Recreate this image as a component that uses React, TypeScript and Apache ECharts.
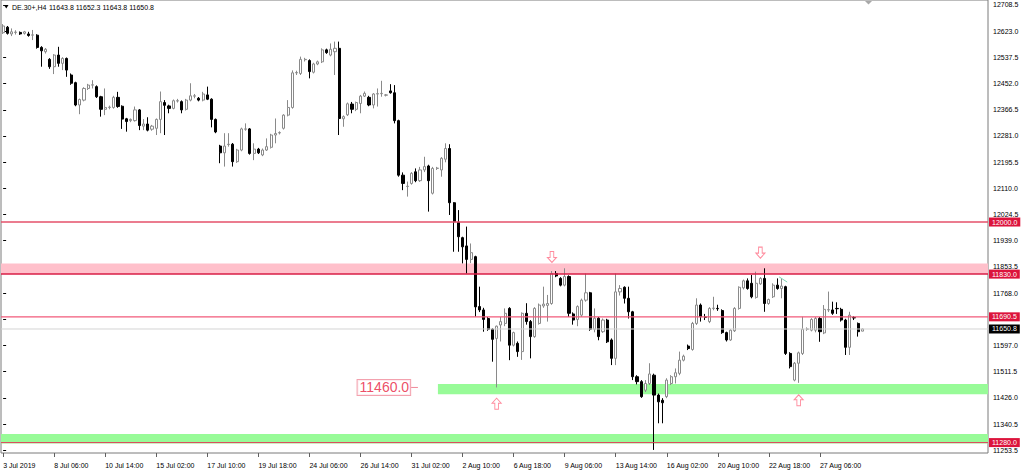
import React, { useEffect, useRef } from "react";
import * as echarts from "echarts";

// ---------- data ----------
const SLOTS = 232; // bar slots visible on the time axis (including empty shift area)
const symbolName = "DE.30+,H4";
const lastQuote = "11643.8 11652.3 11643.8 11650.8";

// [open, close, low, high]
const candles: [number, number, number, number][] = [
  [12618, 12640, 12614, 12646], [12636, 12616, 12612, 12640], [12614, 12621, 12607, 12632], [12619, 12620, 12612, 12626],
  [12619, 12614, 12611, 12622], [12616, 12621, 12612, 12624], [12614, 12609, 12605, 12621], [12610, 12611, 12594, 12627],
  [12610, 12570, 12566, 12613], [12570, 12559, 12507, 12574], [12556, 12564, 12550, 12568], [12531, 12507, 12500, 12535],
  [12507, 12545, 12483, 12548], [12545, 12518, 12507, 12572], [12518, 12534, 12496, 12538], [12534, 12496, 12474, 12537],
  [12480, 12453, 12448, 12485], [12455, 12382, 12378, 12458], [12382, 12400, 12352, 12403], [12398, 12436, 12394, 12440],
  [12436, 12447, 12431, 12451], [12447, 12448, 12436, 12463], [12442, 12409, 12405, 12446], [12409, 12368, 12344, 12412],
  [12368, 12374, 12349, 12436], [12374, 12375, 12368, 12380], [12374, 12407, 12370, 12412], [12407, 12377, 12373, 12425],
  [12378, 12336, 12304, 12381], [12337, 12328, 12295, 12340], [12331, 12335, 12326, 12338], [12331, 12366, 12328, 12377],
  [12366, 12315, 12300, 12369], [12313, 12320, 12300, 12336], [12320, 12300, 12296, 12342], [12303, 12313, 12298, 12317],
  [12306, 12335, 12284, 12338], [12335, 12393, 12290, 12426], [12390, 12381, 12284, 12398], [12379, 12371, 12355, 12383],
  [12371, 12396, 12368, 12400], [12395, 12396, 12390, 12402], [12393, 12366, 12355, 12397], [12368, 12398, 12364, 12402],
  [12398, 12412, 12394, 12453], [12411, 12412, 12404, 12418], [12404, 12398, 12394, 12408], [12398, 12418, 12394, 12425],
  [12415, 12401, 12398, 12442], [12401, 12335, 12309, 12404], [12335, 12294, 12290, 12338], [12248, 12226, 12192, 12252],
  [12226, 12248, 12181, 12290], [12253, 12254, 12246, 12290], [12254, 12197, 12181, 12258], [12197, 12235, 12193, 12239],
  [12235, 12304, 12231, 12308], [12303, 12304, 12298, 12322], [12304, 12224, 12220, 12307], [12224, 12238, 12202, 12257],
  [12238, 12226, 12222, 12242], [12219, 12235, 12215, 12240], [12235, 12246, 12232, 12273], [12244, 12284, 12240, 12288],
  [12284, 12289, 12257, 12338], [12291, 12292, 12286, 12296], [12306, 12349, 12302, 12352], [12349, 12374, 12345, 12398],
  [12374, 12487, 12370, 12495], [12487, 12488, 12480, 12494], [12485, 12531, 12480, 12540], [12530, 12531, 12524, 12536],
  [12527, 12491, 12469, 12531], [12489, 12516, 12485, 12520], [12516, 12523, 12512, 12527], [12523, 12562, 12519, 12567],
  [12562, 12553, 12549, 12566], [12545, 12564, 12541, 12583], [12556, 12567, 12480, 12589], [12567, 12338, 12284, 12589],
  [12337, 12344, 12311, 12348], [12350, 12386, 12346, 12390], [12385, 12368, 12355, 12392], [12368, 12390, 12362, 12393],
  [12387, 12411, 12355, 12415], [12411, 12420, 12408, 12426], [12407, 12382, 12378, 12412], [12382, 12418, 12371, 12421],
  [12418, 12419, 12377, 12436], [12419, 12420, 12409, 12461], [12414, 12415, 12410, 12418], [12428, 12422, 12419, 12450],
  [12422, 12331, 12322, 12447], [12331, 12153, 12148, 12334], [12153, 12126, 12104, 12162], [12116, 12117, 12083, 12132],
  [12126, 12159, 12122, 12163], [12164, 12135, 12130, 12175], [12135, 12170, 12131, 12180], [12170, 12181, 12163, 12213],
  [12183, 12135, 12034, 12187], [12094, 12175, 12090, 12180], [12175, 12176, 12170, 12180], [12170, 12208, 12148, 12212],
  [12205, 12240, 12195, 12257], [12240, 12063, 12023, 12254], [12063, 12001, 11903, 12065], [11999, 11952, 11903, 12039],
  [11949, 11919, 11865, 11952], [11922, 11878, 11832, 11985], [11878, 11900, 11866, 11930], [11887, 11723, 11691, 11890],
  [11724, 11713, 11706, 11789], [11713, 11682, 11642, 11720], [11685, 11650, 11645, 11690], [11650, 11617, 11544, 11653],
  [11620, 11660, 11460, 11662], [11664, 11675, 11610, 11690], [11669, 11702, 11660, 11718], [11718, 11598, 11549, 11722],
  [11598, 11639, 11594, 11642], [11604, 11577, 11560, 11610], [11577, 11702, 11550, 11705], [11702, 11675, 11665, 11735],
  [11675, 11626, 11555, 11680], [11626, 11718, 11622, 11722], [11669, 11729, 11665, 11734], [11726, 11732, 11720, 11789],
  [11728, 11734, 11675, 11762], [11734, 11832, 11730, 11840], [11832, 11824, 11820, 11840], [11816, 11794, 11790, 11820],
  [11794, 11822, 11790, 11849], [11822, 11702, 11690, 11826], [11700, 11680, 11665, 11705], [11682, 11724, 11660, 11728],
  [11696, 11745, 11690, 11750], [11745, 11769, 11740, 11832], [11769, 11650, 11645, 11772], [11650, 11686, 11640, 11718],
  [11686, 11626, 11614, 11690], [11642, 11680, 11638, 11685], [11680, 11609, 11605, 11684], [11615, 11555, 11533, 11620],
  [11555, 11772, 11533, 11832], [11772, 11783, 11760, 11794], [11787, 11751, 11734, 11790], [11751, 11707, 11685, 11789],
  [11707, 11495, 11484, 11710], [11495, 11479, 11470, 11500], [11479, 11430, 11426, 11484], [11451, 11473, 11445, 11484],
  [11473, 11504, 11468, 11539], [11500, 11435, 11256, 11505], [11435, 11413, 11343, 11440], [11418, 11410, 11343, 11425],
  [11430, 11484, 11425, 11490], [11473, 11495, 11468, 11500], [11495, 11508, 11473, 11522], [11506, 11549, 11500, 11577],
  [11549, 11562, 11545, 11567], [11595, 11587, 11582, 11600], [11584, 11669, 11580, 11674], [11669, 11729, 11664, 11751],
  [11729, 11691, 11675, 11734], [11690, 11689, 11680, 11700], [11675, 11718, 11670, 11722], [11718, 11719, 11712, 11756],
  [11718, 11717, 11710, 11730], [11711, 11639, 11635, 11715], [11639, 11615, 11610, 11642], [11615, 11647, 11612, 11650],
  [11645, 11718, 11641, 11722], [11718, 11787, 11714, 11790], [11785, 11808, 11780, 11812], [11808, 11783, 11779, 11816],
  [11800, 11756, 11751, 11827], [11754, 11800, 11750, 11838], [11798, 11816, 11795, 11820], [11816, 11734, 11707, 11849],
  [11734, 11747, 11730, 11750], [11756, 11794, 11752, 11800], [11794, 11783, 11779, 11816], [11783, 11791, 11751, 11816],
  [11789, 11571, 11566, 11792], [11571, 11528, 11522, 11575], [11484, 11539, 11480, 11543], [11539, 11573, 11475, 11577],
  [11571, 11650, 11566, 11691], [11650, 11651, 11645, 11656], [11647, 11682, 11643, 11686], [11647, 11685, 11640, 11690],
  [11685, 11642, 11609, 11690], [11638, 11715, 11634, 11729], [11713, 11714, 11706, 11773], [11713, 11702, 11697, 11740],
  [11718, 11717, 11700, 11738], [11715, 11680, 11675, 11720], [11680, 11591, 11566, 11684], [11591, 11696, 11566, 11707],
  [11688, 11687, 11680, 11693], [11669, 11642, 11626, 11672], [11643.8, 11650.8, 11643.8, 11652.3],
];

const TICK_STEP = 12; // bars between time labels
const timeLabels = [
  "3 Jul 2019", "8 Jul 06:00", "10 Jul 14:00", "15 Jul 02:00", "17 Jul 10:00", "19 Jul 18:00",
  "24 Jul 06:00", "26 Jul 14:00", "31 Jul 02:00", "2 Aug 10:00", "6 Aug 18:00", "9 Aug 06:00",
  "13 Aug 14:00", "16 Aug 02:00", "20 Aug 10:00", "22 Aug 18:00", "27 Aug 06:00",
];

// price scale (visible range of the plot) and the price ticks / labels
const PLOT_TOP_PRICE = 12724.8;
const PLOT_BOTTOM_PRICE = 11246.0;
const priceTicks = [
  12708.5, 12623.0, 12537.5, 12452.0, 12366.5, 12281.0, 12195.5, 12110.0, 12024.5,
  11939.0, 11853.5, 11768.0, 11682.5, 11597.0, 11511.5, 11426.0, 11340.5, 11253.5,
];
// 11682.5 is hidden under the 11690.5 price tag in the reference
const priceLabels = priceTicks.filter((v) => v !== 11682.5);

// horizontal levels
const levelPrices = [12000.0, 11830.0, 11690.5, 11650.8, 11280.0];
const levelColors = ["#e4506a", "#d81e46", "#f25a7a", "#d4d4d4", "#e0405c"];
const levelWidths = [1.5, 1.5, 1.2, 1, 1];
const levelTags = ["#dc143c", "#dc143c", "#dc143c", "#000000", "#dc143c"];

// zones: low price, high price, start bar (null = full width), colour
const zoneLows = [11830, 11438, 11277];
const zoneHighs = [11865, 11471, 11308];
const zoneStarts: (number | null)[] = [null, 102.2, null];
const zoneColors = ["#ffc0cb", "#98fb98", "#98fb98"];

// arrows
const arrowBars = [129, 178, 116, 187];
const arrowPrices = [11886, 11900, 11407, 11418];
const arrowDirs = ["down", "down", "up", "up"];

const noteBar = 83.2;
const notePrice = 11460.0;
const noteText = "11460.0";

// small trend segment
const trendFrom = [182.4, 11821];
const trendTo = [184.3, 11804];

const FONT = "Liberation Sans";

const DOWN_ARROW = "path://M3,0L7,0L7,6L10,6L5,11L0,6L3,6Z";
const UP_ARROW = "path://M3,11L7,11L7,5L10,5L5,0L0,5L3,5Z";

function buildOption() {
  const categories = Array.from({ length: SLOTS }, (_, i) => String(i));
  const showTime = (i: number) => i % TICK_STEP === 0 && i / TICK_STEP < timeLabels.length;

  const markAreaData = zoneLows.map((lo, i) => {
    const hi = zoneHighs[i];
    const st = zoneStarts[i];
    const style = { itemStyle: { color: zoneColors[i], opacity: 1 } };
    if (st === null) return [{ yAxis: hi, ...style }, { yAxis: lo }];
    return [{ xAxis: st, yAxis: hi, ...style }, { xAxis: SLOTS - 0.5, yAxis: lo }];
  });

  const levelSeries = levelPrices.map((p, i) => ({
    type: "line",
    name: "level-" + p.toFixed(1),
    xAxisIndex: 1,
    yAxisIndex: 0,
    z: 4,
    silent: true,
    symbol: "none",
    data: [[-0.5, p], [SLOTS - 0.5, p]],
    lineStyle: { color: levelColors[i], width: levelWidths[i], type: "solid" },
    itemStyle: { color: levelColors[i] },
    endLabel: {
      show: true,
      distance: 1,
      formatter: p.toFixed(1),
      color: "#ffffff",
      backgroundColor: levelTags[i],
      padding: [1, 3, 1, 3],
      fontSize: 7,
      fontFamily: FONT,
    },
  }));

  const segments = [
    { from: [noteBar + 12.7, notePrice], to: [noteBar + 14.3, notePrice], color: "#f08a9a" },
    { from: trendFrom, to: trendTo, color: "#7fd3b4" },
  ].map((s, i) => ({
    type: "line",
    name: "segment-" + i,
    xAxisIndex: 1,
    yAxisIndex: 0,
    z: 4,
    silent: true,
    symbol: "none",
    data: [s.from, s.to],
    lineStyle: { color: s.color, width: 1 },
  }));

  return {
    animation: false,
    backgroundColor: "#ffffff",
    grid: [
      { left: 1, right: 36, top: 0, bottom: 21, show: true, borderColor: "#7a7a7a", borderWidth: 1, backgroundColor: "transparent" },
    ],
    xAxis: [
      {
        type: "category",
        gridIndex: 0,
        data: categories,
        boundaryGap: true,
        axisLine: { show: false },
        axisTick: {
          show: true,
          alignWithLabel: true,
          interval: (i: number) => showTime(i),
          length: 4,
          lineStyle: { color: "#606060" },
        },
        axisLabel: {
          show: true,
          interval: (i: number) => showTime(i),
          formatter: (v: string) => {
            const i = Number(v);
            return showTime(i) ? timeLabels[i / TICK_STEP] : "";
          },
          align: "left",
          margin: 9,
          fontSize: 7,
          color: "#000000",
          fontFamily: FONT,
        },
        splitLine: { show: false },
      },
      { type: "value", gridIndex: 0, min: -0.5, max: SLOTS - 0.5, show: false },
    ],
    yAxis: [
      {
        type: "value",
        gridIndex: 0,
        min: PLOT_BOTTOM_PRICE,
        max: PLOT_TOP_PRICE,
        position: "right",
        axisLine: { show: false },
        axisTick: { show: true, inside: false, length: 3, lineStyle: { color: "#000000" }, customValues: priceTicks },
        axisLabel: {
          show: true,
          margin: 5,
          customValues: priceLabels,
          formatter: (v: number) => v.toFixed(1),
          fontSize: 7,
          color: "#000000",
          fontFamily: FONT,
        },
        splitLine: { show: false },
      },
    ],
    series: [
      {
        type: "line",
        name: "zones",
        xAxisIndex: 1,
        yAxisIndex: 0,
        data: [],
        z: 1,
        silent: true,
        markArea: { silent: true, data: markAreaData },
      },
      {
        type: "candlestick",
        name: symbolName,
        xAxisIndex: 0,
        yAxisIndex: 0,
        data: candles,
        z: 3,
        barWidth: 2.6,
        itemStyle: {
          color: "#ffffff",
          color0: "#000000",
          borderColor: "#8a8a8a",
          borderColor0: "#000000",
          borderWidth: 1,
        },
      },
      ...levelSeries,
      ...segments,
      {
        type: "scatter",
        name: "arrows",
        xAxisIndex: 1,
        yAxisIndex: 0,
        z: 5,
        silent: true,
        data: arrowBars.map((b, i) => ({
          value: [b, arrowPrices[i]],
          symbol: arrowDirs[i] === "down" ? DOWN_ARROW : UP_ARROW,
        })),
        symbolSize: [9, 11],
        itemStyle: { color: "#ffffff", borderColor: "#ff6f86", borderWidth: 1 },
      },
      {
        type: "scatter",
        name: "note",
        xAxisIndex: 1,
        yAxisIndex: 0,
        z: 5,
        silent: true,
        data: [[noteBar, notePrice]],
        symbolSize: 1,
        itemStyle: { color: "rgba(0,0,0,0)" },
        label: {
          show: true,
          position: "right",
          distance: 0,
          formatter: noteText,
          color: "#e8203e",
          fontSize: 14,
          fontFamily: FONT,
          backgroundColor: "#ffffff",
          borderColor: "#f08a9a",
          borderWidth: 1,
          padding: [1, 1, 0, 2],
        },
      },
    ],
    graphic: [
      { type: "polygon", shape: { points: [[4, 5], [8.5, 5], [6.25, 8.5]] }, style: { fill: "#000000" } },
      { type: "text", x: 12, y: 7, style: { text: symbolName, fontSize: 7, fontFamily: FONT, fill: "#000000", verticalAlign: "middle" } },
      { type: "text", x: 49, y: 7, style: { text: lastQuote, fontSize: 7, fontFamily: FONT, fill: "#000000", verticalAlign: "middle" } },
      { type: "polygon", shape: { points: [[865, 1], [872, 1], [868.5, 4.5]] }, style: { fill: "#a8a8a8" } },
    ],
  };
}

export default function App() {
  const ref = useRef<HTMLDivElement>(null);
  useEffect(() => {
    if (!ref.current) return;
    const chart = echarts.init(ref.current, null, { renderer: "svg" });
    chart.setOption(buildOption() as any);
    return () => chart.dispose();
  }, []);
  return <div ref={ref} style={{ position: "absolute", left: 0, top: 0, width: 1024, height: 474 }} />;
}
